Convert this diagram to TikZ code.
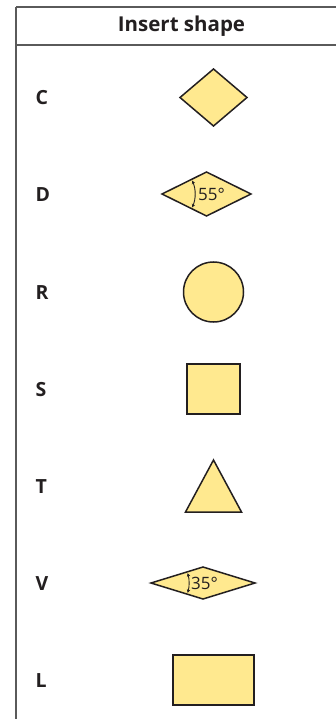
\documentclass[tikz,border=0pt]{standalone}
\usepackage{fontspec}
\setmainfont{Open Sans}
\usetikzlibrary{arrows.meta}
\definecolor{shapefill}{RGB}{255,233,143}
\definecolor{shapeline}{RGB}{35,31,32}
\definecolor{ruleline}{RGB}{90,90,90}
\tikzset{
  rowlabel/.style={anchor=west,inner sep=0pt,font=\fontsize{19.5}{22}\selectfont\bfseries,text=shapeline},
  shp/.style={draw=shapeline,fill=shapefill,line width=1.5pt,line join=miter},
  rule/.style={draw=ruleline,line width=1.3pt},
  angletext/.style={inner sep=0pt,font=\fontsize{17}{19}\selectfont,text=shapeline},
  anglearc/.style={draw=shapeline,line width=0.9pt,{Stealth[length=3.5pt,width=3.5pt]}-{Stealth[length=3.5pt,width=3.5pt]}}
}
\begin{document}
\begin{tikzpicture}[x=1pt,y=-1pt]
\useasboundingbox (0,0) rectangle (336,719);
% table rules
\draw[rule] (16,7) -- (336,7);
\draw[rule] (16,45) -- (336,45);
\draw[rule] (16,7) -- (16,719);
\node[inner sep=0pt,font=\fontsize{20.5}{24}\selectfont\bfseries,text=shapeline] (head) at (181.5,26) {Insert shape};
% row labels
\node[rowlabel] (lc) at (35.5,97.5) {C};
\node[rowlabel] (ld) at (35.5,194.5) {D};
\node[rowlabel] (lr) at (35.5,292.5) {R};
\node[rowlabel] (ls) at (35.5,389.5) {S};
\node[rowlabel] (lt) at (35.5,486.5) {T};
\node[rowlabel] (lv) at (35.5,583.5) {V};
\node[rowlabel] (ll) at (35.5,680.5) {L};
% C square diamond
\draw[shp] (180,97.5) -- (213.5,69) -- (247,97.5) -- (213.5,126) -- cycle;
% D rhombus 55
\draw[shp] (162,194) -- (206.5,172) -- (251,194) -- (206.5,216) -- cycle;
\coordinate (dv) at (162,194);
\draw[anglearc] ([shift={(-24:33)}]dv) arc[start angle=-24,end angle=24,radius=33];
\node[angletext,anchor=west] (d55) at (198,194) {55°};
% R circle
\draw[shp] (213.5,292) circle[radius=30];
% S square
\draw[shp] (187,364) rectangle (240,414);
% T triangle
\draw[shp] (213.5,460) -- (241.5,512) -- (185.5,512) -- cycle;
% V rhombus 35
\draw[shp] (151,583) -- (203,567) -- (255,583) -- (203,599) -- cycle;
\coordinate (vv) at (151,583);
\draw[anglearc] ([shift={(-15:38)}]vv) arc[start angle=-15,end angle=15,radius=38];
\node[angletext,anchor=west] (v35) at (191,583) {35°};
% L rectangle
\draw[shp] (173,655) rectangle (254,705);
\end{tikzpicture}
\end{document}
